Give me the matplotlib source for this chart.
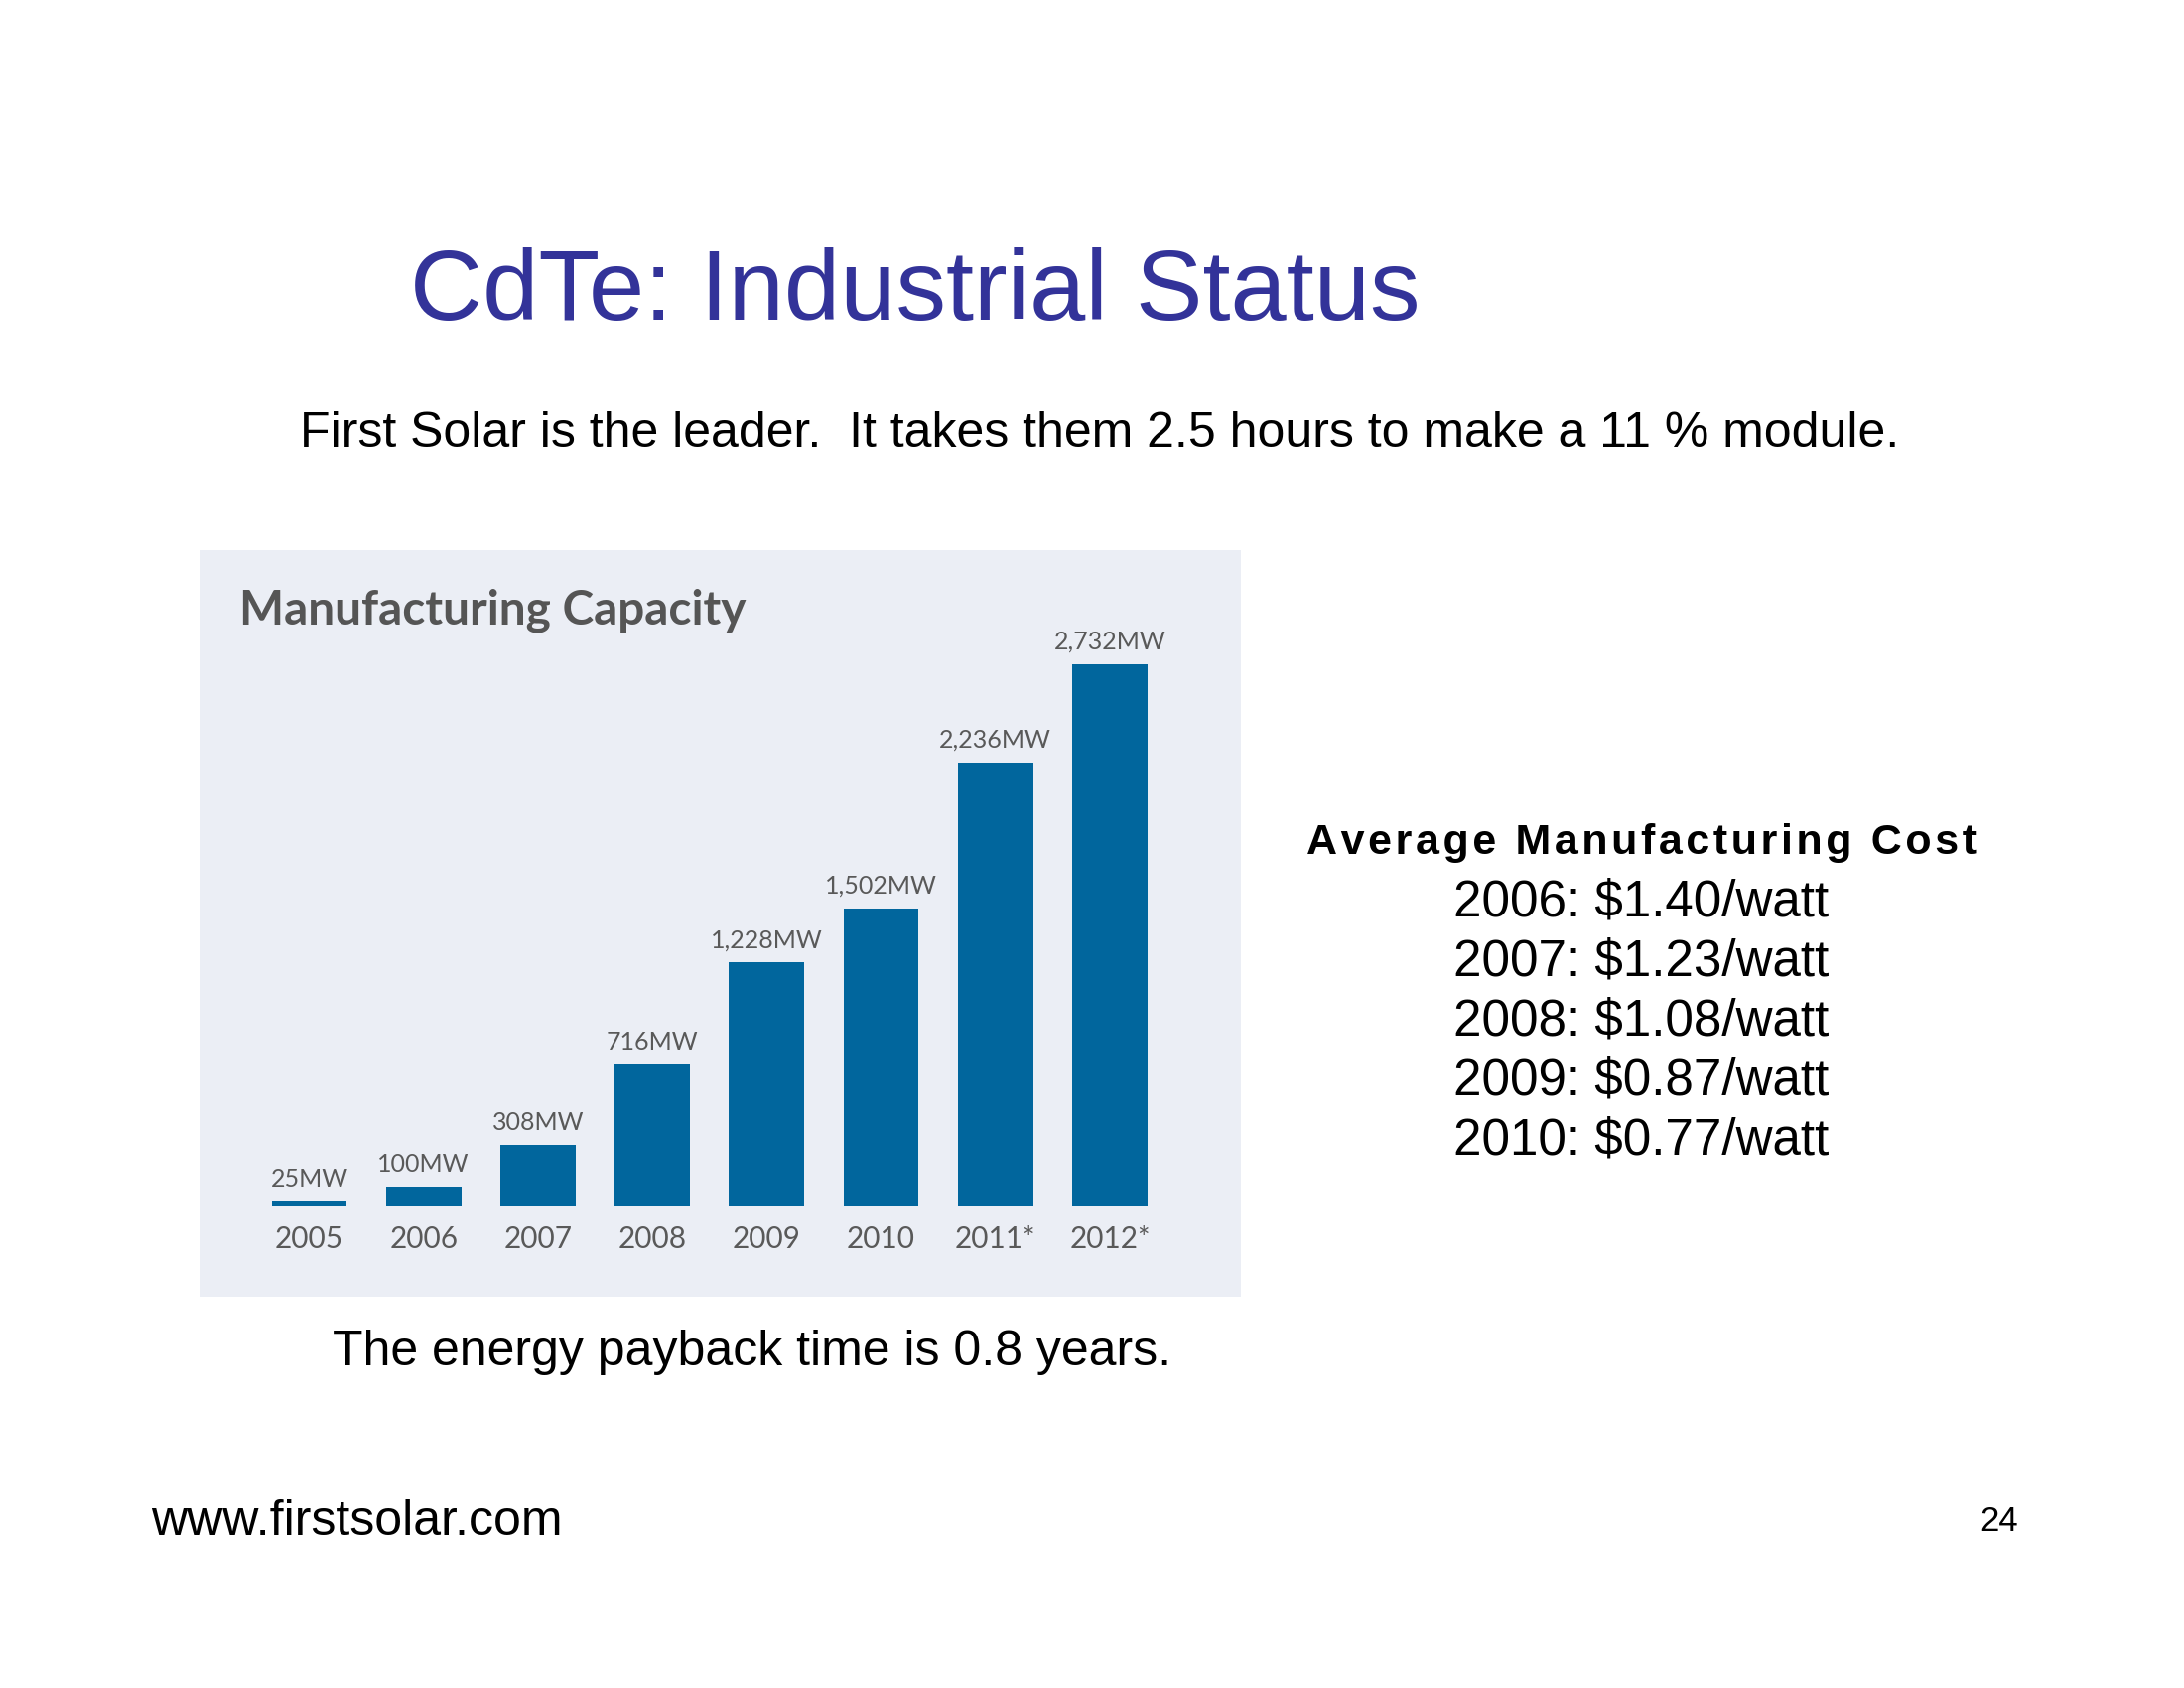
import matplotlib.pyplot as plt

years = ['2005', '2006', '2007', '2008', '2009', '2010', '2011*', '2012*']
capacity = [25, 100, 308, 716, 1228, 1502, 2236, 2732]
cap_labels = ['25MW', '100MW', '308MW', '716MW', '1,228MW', '1,502MW', '2,236MW', '2,732MW']
cost_years = ['2006', '2007', '2008', '2009', '2010']
cost_values = ['$1.40', '$1.23', '$1.08', '$0.87', '$0.77']

W, H = 2200, 1700
fig = plt.figure(figsize=(11, 8.5), dpi=200, facecolor='white')

def fx(px):
    return px / W

def fy(py):
    return 1 - py / H

# slide texts
fig.text(fx(922), fy(296), 'CdTe: Industrial Status', family='Liberation Sans',
         fontsize=36.4, color='#333399', ha='center', va='center')
fig.text(fx(1108), fy(437), 'First Solar is the leader.  It takes them 2.5 hours to make a 11 % module.',
         family='Liberation Sans', fontsize=18, color='black', ha='center', va='center')
fig.text(fx(758), fy(1362), 'The energy payback time is 0.8 years.',
         family='Liberation Sans', fontsize=18, color='black', ha='center', va='center')
fig.text(fx(152), fy(1533), 'www.firstsolar.com', family='Liberation Sans',
         fontsize=18, color='black', ha='left', va='center')
fig.text(fx(2033), fy(1533), '24', family='Liberation Sans',
         fontsize=12.5, color='black', ha='right', va='center')

# cost list (letter-spaced heading)
heading = '\u200a'.join('Average Manufacturing Cost')
fig.text(fx(1653), fy(849), heading, family=['Liberation Sans', 'DejaVu Sans'],
         fontweight='bold', fontsize=15.5, color='black', ha='center', va='center')
for i, (yr, val) in enumerate(zip(cost_years, cost_values)):
    fig.text(fx(1653), fy(909 + i * 60), f'{yr}: {val}/watt',
             family='Liberation Sans', fontsize=18.4, color='black',
             ha='center', va='center')

# bar chart panel
ax = fig.add_axes([fx(201), fy(1306), (1250 - 201) / W, (1306 - 554) / H])
ax.set_facecolor('#ebeef5')
for s in ax.spines.values():
    s.set_visible(False)
ax.set_xticks([])
ax.set_yticks([])

x = range(len(years))
ax.bar(x, capacity, width=0.657, color='#01669d')
ax.set_xlim(-0.959, 8.146)
ax.set_ylim(-455, 3305)

for i, (v, lab) in enumerate(zip(capacity, cap_labels)):
    ax.annotate(lab, (i, v), xytext=(0, 4), textcoords='offset points',
                ha='center', va='bottom', family='Lato', fontsize=9, color='#595959')
    ax.annotate(years[i], (i, 0), xytext=(0, -12), textcoords='offset points',
                ha='center', va='center', family='Lato', fontsize=10.7, color='#595959')

ax.text(0.038, 0.919, 'Manufacturing Capacity', transform=ax.transAxes,
        family='Lato', fontweight='bold', fontsize=17.2, color='#555555',
        ha='left', va='center')

fig.savefig('out.png', dpi=200, facecolor='white')
